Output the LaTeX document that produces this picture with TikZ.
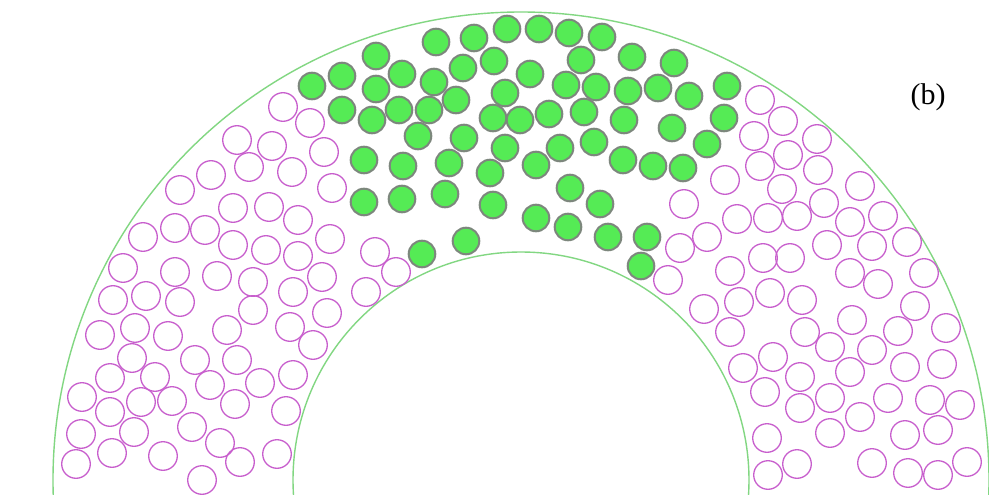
\documentclass[tikz,border=0pt]{standalone}
\usepackage{fontspec}
\setmainfont{Liberation Serif}
\definecolor{ringline}{RGB}{130,215,130}
\definecolor{ballfill}{RGB}{85,235,85}
\definecolor{balledge}{RGB}{125,135,125}
\definecolor{pinkedge}{RGB}{200,95,205}
\tikzset{
  greenball/.style={fill=ballfill,draw=balledge,line width=2pt},
  pinkball/.style={draw=pinkedge,line width=1.3pt},
  ringarc/.style={draw=ringline,line width=1.4pt}
}
\begin{document}
\begin{tikzpicture}[x=1pt,y=-1pt]
\useasboundingbox (0,0) rectangle (989,495);
\fill[white] (0,0) rectangle (989,495);
\begin{scope}
\clip (0,0) rectangle (989,495);
\draw[ringarc] (521,480) circle[radius=468pt];
\draw[ringarc] (521,480) circle[radius=228pt];
\end{scope}
% green (filled) particles
\foreach \p in {(507,29),(539,29),(569,33),(602,37),(436,42),(474,38),(376,56),(581,60),(632,57),(674,63),
(312,86),(342,76),(376,89),(402,74),(434,82),(463,68),(494,61),(530,74),(566,85),(596,87),(628,91),(658,88),(689,96),(727,86),
(342,110),(372,120),(399,110),(429,110),(456,100),(505,93),(493,118),(520,120),(549,114),(584,112),(624,120),(672,128),(724,118),
(418,136),(464,138),(505,148),(536,165),(560,148),(594,142),(623,160),(653,166),(683,168),(707,144),
(364,160),(403,166),(449,163),(490,173),
(364,202),(402,199),(445,194),(493,205),(570,188),(600,204),(536,218),(568,227),(608,237),(647,237),(641,266),(422,254),(466,241)}
  \draw[greenball] \p circle[radius=13.3pt];
% magenta (open) particles, left
\foreach \p in {(237,140),(283,107),(310,123),(272,146),(324,152),(249,167),(292,172),(211,175),(180,190),(233,208),
(143,237),(175,228),(205,230),(233,245),(123,268),(175,272),(217,276),(253,282),(113,300),(146,296),(180,302),(253,310),
(100,335),(135,328),(168,336),(227,330),(132,358),(110,378),(155,377),(195,360),(237,360),(210,385),(82,397),(110,412),
(141,402),(172,401),(235,404),(81,434),(134,432),(192,427),(220,443),(112,453),(76,464),(163,456),(240,462),(202,480),
(290,327),(313,345),(293,375),(260,383),(286,411),(277,454),(332,188),(269,207),(298,220),(330,239),(266,250),(298,256),
(375,252),(396,272),(322,277),(293,292),(366,292),(327,313)}
  \draw[pinkball] \p circle[radius=14.3pt];
% magenta (open) particles, right
\foreach \p in {(760,100),(783,121),(754,136),(817,139),(788,155),(760,166),(818,170),(725,180),(782,189),(860,186),
(737,219),(768,218),(797,216),(824,203),(850,222),(883,216),(827,245),(872,246),(907,242),(763,258),(790,258),(730,271),
(850,273),(878,284),(924,273),(770,293),(802,300),(739,302),(915,306),(852,320),(805,332),(898,331),(946,328),
(684,204),(707,237),(680,248),(668,280),(704,309),(730,332),(773,357),(830,347),(872,350),(743,368),(800,377),(850,372),
(905,367),(942,364),(765,392),(830,398),(888,398),(930,400),(960,405),(800,408),(860,417),(767,438),(830,433),(905,435),
(938,430),(768,475),(797,464),(872,463),(908,473),(938,475),(967,462)}
  \draw[pinkball] \p circle[radius=14.3pt];
\node[font=\fontsize{30}{36}\selectfont,inner sep=0pt] (label) at (928,97) {(b)};
\end{tikzpicture}
\end{document}
